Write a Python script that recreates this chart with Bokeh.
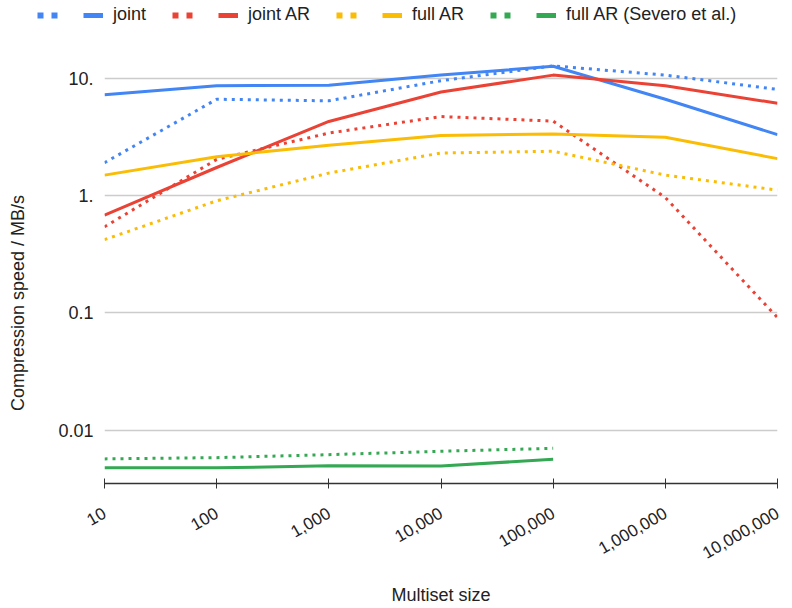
from math import pi
from bokeh.plotting import figure
from bokeh.layouts import column, row
from bokeh.models import (FixedTicker, Legend, LegendItem, Label, Range1d,
                          NumeralTickFormatter)
from bokeh.embed import file_html
from bokeh.resources import INLINE

# ---- data ----
sizes = [10, 100, 1000, 10000, 100000, 1000000, 10000000]
y_ticks = [0.01, 0.1, 1, 10]
y_tick_labels = ["0.01", "0.1", "1.", "10."]

joint_dotted = [1.9, 6.6, 6.4, 9.5, 12.7, 10.6, 8.0]
joint_solid = [7.2, 8.6, 8.7, 10.6, 12.6, 6.6, 3.3]
joint_ar_dotted = [0.54, 2.03, 3.4, 4.7, 4.3, 0.96, 0.091]
joint_ar_solid = [0.68, 1.73, 4.27, 7.6, 10.6, 8.6, 6.1]
full_ar_dotted = [0.42, 0.90, 1.55, 2.3, 2.38, 1.49, 1.11]
full_ar_solid = [1.49, 2.14, 2.68, 3.24, 3.34, 3.13, 2.06]
severo_sizes = [10, 100, 1000, 10000, 100000]
severo_dotted = [0.00569, 0.00583, 0.00618, 0.00661, 0.0070]
severo_solid = [0.00477, 0.00477, 0.00497, 0.00494, 0.00565]

series_names = ["joint", "joint AR", "full AR", "full AR (Severo et al.)"]
colors = ["#4285F4", "#EA4335", "#FBBC04", "#34A853"]

FONT = "Liberation Sans"
TXT = "#222222"

TOTAL_W, TOTAL_H = 792, 608
LEG_H = 30
TITLE_W = 30
MAIN_H = TOTAL_H - LEG_H
FRAME_TOP, FRAME_BOTTOM = 42, 486   # page pixels of the plot area


def bare_figure(w, h):
    f = figure(width=w, height=h, x_range=Range1d(0, 1), y_range=Range1d(0, 1),
               output_backend="svg", toolbar_location=None,
               x_axis_location=None, y_axis_location=None,
               min_border_left=0, min_border_right=0, min_border_top=0,
               min_border_bottom=0)
    f.title.visible = False
    f.outline_line_color = None
    f.xgrid.visible = False
    f.ygrid.visible = False
    return f


# ---- main chart ----
p = figure(width=TOTAL_W - TITLE_W, height=MAIN_H, x_axis_type="log", y_axis_type="log",
           x_range=Range1d(10, 1e7), y_range=Range1d(0.00351, 20.1),
           output_backend="svg", toolbar_location=None,
           min_border_left=104 - TITLE_W, min_border_right=15,
           min_border_top=FRAME_TOP - LEG_H, min_border_bottom=TOTAL_H - FRAME_BOTTOM)
p.title.visible = False
p.outline_line_color = None
p.xgrid.grid_line_color = None
p.ygrid.grid_line_color = "#cccccc"
p.ygrid.grid_line_width = 1.5

yax = p.yaxis[0]
yax.ticker = FixedTicker(ticks=y_ticks, minor_ticks=[])
yax.major_label_overrides = {t: l for t, l in zip(y_ticks, y_tick_labels)}
yax.axis_line_color = None
yax.major_tick_line_color = None
yax.minor_tick_line_color = None
yax.major_tick_out = 0
yax.major_tick_in = 0
yax.major_label_standoff = 11
yax.major_label_text_font = FONT
yax.major_label_text_font_size = "18px"
yax.major_label_text_color = TXT

xax = p.xaxis[0]
xax.ticker = FixedTicker(ticks=sizes, minor_ticks=[])
xax.formatter = NumeralTickFormatter(format="0,0")
xax.axis_line_color = "#333333"
xax.axis_line_width = 1.5
xax.major_tick_line_color = "#333333"
xax.major_tick_in = 5
xax.major_tick_out = 5
xax.minor_tick_line_color = None
xax.major_label_orientation = pi / 6
xax.major_label_standoff = 23
xax.major_label_text_font = FONT
xax.major_label_text_font_size = "17px"
xax.major_label_text_color = TXT
xax.axis_label = "Multiset size"
xax.axis_label_standoff = 18
xax.axis_label_text_font = FONT
xax.axis_label_text_font_size = "18px"
xax.axis_label_text_font_style = "normal"
xax.axis_label_text_color = TXT

dotted_sets = [(sizes, joint_dotted), (sizes, joint_ar_dotted), (sizes, full_ar_dotted),
               (severo_sizes, severo_dotted)]
solid_sets = [(sizes, joint_solid), (sizes, joint_ar_solid), (sizes, full_ar_solid),
              (severo_sizes, severo_solid)]

for c, (xd, yd), (xs, ys) in zip(colors, dotted_sets, solid_sets):
    p.line(xd, yd, line_color=c, line_width=3, line_dash="3 5", line_cap="butt")
    p.line(xs, ys, line_color=c, line_width=3)

# ---- legend strip (swatches reuse the series data; they fall outside this strip's frame) ----
lf = bare_figure(TOTAL_W, LEG_H)
items = []
for name, c, (xd, yd), (xs, ys) in zip(series_names, colors, dotted_sets, solid_sets):
    ld = lf.line(xd, yd, line_color=c, line_width=6, line_dash="6 8 6 46", line_cap="butt")
    ls = lf.line(xs, ys, line_color=c, line_width=5, line_dash="0 46 20 0", line_cap="butt")
    items.append(LegendItem(label=name, renderers=[ld, ls]))
legend = Legend(items=items, orientation="horizontal", location=(37, 5),
                label_text_font=FONT, label_text_font_size="18px", label_text_color=TXT,
                glyph_width=66, glyph_height=20, label_height=20, label_width=0,
                label_standoff=10, spacing=26, padding=0, margin=0,
                border_line_color=None, background_fill_alpha=0)
lf.add_layout(legend)

# ---- y axis title strip (its frame lines up with the chart's plot area) ----
tf = bare_figure(TITLE_W, MAIN_H)
tf.add_layout(Label(x=17, y=FRAME_BOTTOM - 305.5, x_units="screen", y_units="screen",
                    text="Compression speed / MB/s", angle=pi / 2,
                    text_align="center", text_baseline="middle",
                    text_font=FONT, text_font_size="18px", text_color=TXT))

layout = column(lf, row(tf, p, spacing=0), spacing=0)
open("out.html", "w").write(file_html(layout, INLINE))
